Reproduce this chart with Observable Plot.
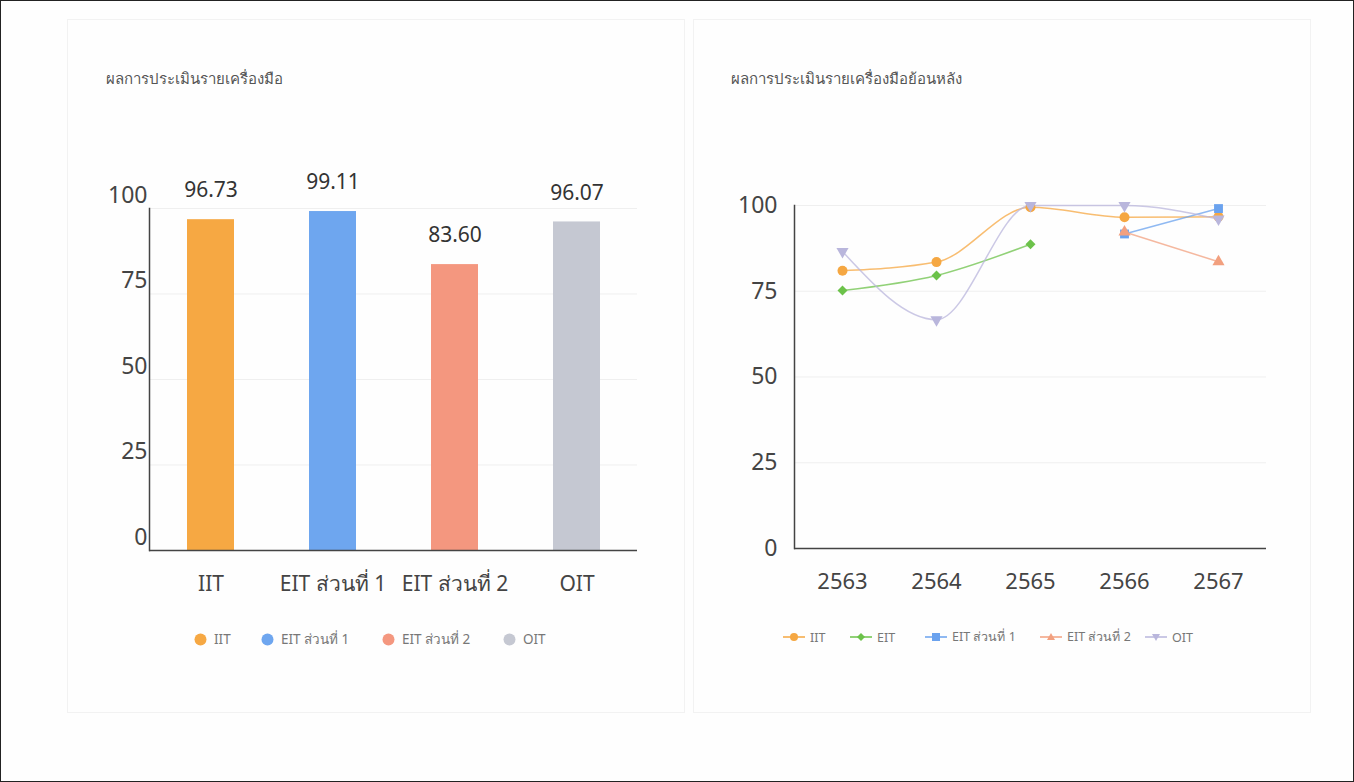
<!DOCTYPE html>
<html><head><meta charset="utf-8">
<script src="https://cdn.jsdelivr.net/npm/d3@7"></script>
<script src="https://cdn.jsdelivr.net/npm/@observablehq/plot@0.6"></script>
<style>
body{margin:0;background:#fff;font-family:"Noto Sans","Open Sans",sans-serif;}
#page{position:relative;width:1354px;height:782px;box-sizing:border-box;border:1px solid #222;overflow:hidden;background:#fefefe}
.panel{position:absolute;border:1px solid #f2f2f2;}
.title{position:absolute;font-size:15px;color:#555;line-height:16px;}
.chart{position:absolute;}
.leg{position:absolute;color:#777;display:flex;align-items:center;white-space:nowrap;height:16px;}
.leg svg{margin-right:5px;}
</style></head>
<body>
<div id="page">
  <div class="panel" style="left:66px;top:18px;width:616px;height:692px"></div>
  <div class="panel" style="left:692px;top:18px;width:616px;height:692px"></div>
  <div class="title" style="left:105px;top:69px">ผลการประเมินรายเครื่องมือ</div>
  <div class="title" style="left:730px;top:69px">ผลการประเมินรายเครื่องมือย้อนหลัง</div>
  <div id="left" class="chart" style="left:60px;top:150px"></div>
  <div id="right" class="chart" style="left:720px;top:150px"></div>
</div>
<script>
// ---- data ----
const barCategories = ["IIT", "EIT ส่วนที่ 1", "EIT ส่วนที่ 2", "OIT"];
const barValues = [96.73, 99.11, 83.60, 96.07];
const barColors = ["#f6a843", "#6ea6ef", "#f4977f", "#c5c8d2"];
const yTicks = [0, 25, 50, 75, 100];

const years = ["2563", "2564", "2565", "2566", "2567"];
const seriesNames = ["IIT", "EIT", "EIT ส่วนที่ 1", "EIT ส่วนที่ 2", "OIT"];
const iitValues = [81.0, 83.5, 99.5, 96.6, 96.73];
const eitValues = [75.2, 79.6, 88.7, null, null];
const eit1Values = [null, null, null, 91.7, 99.11];
const eit2Values = [null, null, null, 92.3, 83.60];
const oitValues = [86.6, 66.7, 100, 100, 96.07];
const lineColors = ["#f5a742", "#6cc24a", "#6aa2ee", "#f2a07f", "#b9b6dc"];

const font = '"Noto Sans","Open Sans",sans-serif';

// ---- left bar chart ----
const bars = barCategories.map((c, i) => ({cat: c, value: barValues[i]}));
const left = Plot.plot({
  width: 620, height: 470,
  marginLeft: 88, marginRight: 44, marginTop: 57, marginBottom: 71,
  style: {fontFamily: font, background: "transparent", overflow: "visible", color: "#444"},
  x: {domain: barCategories, paddingInner: 0.615, paddingOuter: 0.307, label: null},
  y: {domain: [0, 100], label: null},
  color: {domain: barCategories, range: barColors},
  marks: [
    Plot.ruleY(yTicks.filter(t => t > 0), {stroke: "#efefef"}),
    Plot.barY(bars, {x: "cat", y: "value", fill: "cat"}),
    Plot.text(bars, {x: "cat", y: "value", text: d => d.value.toFixed(2), dy: -29, fontSize: 21, fill: "#333"}),
    Plot.axisY(yTicks, {tickSize: 0, tickPadding: 2, dy: -13, fontSize: 23, fill: "#444", label: null}),
    Plot.axisX({tickSize: 0, tickPadding: 26, fontSize: 21, fill: "#444", label: null}),
    Plot.frame({anchor: "left", stroke: "#444", strokeWidth: 1.5}),
    Plot.ruleY([0], {stroke: "#444", strokeWidth: 1.5})
  ]
});
document.getElementById("left").appendChild(left);

// ---- right line chart ----
const seriesValues = [iitValues, eitValues, eit1Values, eit2Values, oitValues];
const rows = [];
seriesNames.forEach((s, si) => years.forEach((y, yi) => rows.push({series: s, year: y, value: seriesValues[si][yi]})));
const triangleDown = {
  draw(ctx, size) {
    const h = Math.sqrt(size / (Math.sqrt(3) / 4));
    const r = h / Math.sqrt(3);
    ctx.moveTo(0, r);
    ctx.lineTo(h / 2, -r / 2);
    ctx.lineTo(-h / 2, -r / 2);
    ctx.closePath();
  }
};
const symbols = ["circle", "diamond2", "square", "triangle", triangleDown];
const radii = [5, 4.5, 5, 4.5, 4.5];
const dotMarks = seriesNames.map((s, i) =>
  Plot.dot(rows.filter(d => d.series === s && d.value != null),
    {x: "year", y: "value", fill: "series", symbol: () => symbols[i], r: radii[i]}));

const right = Plot.plot({
  width: 600, height: 470,
  marginLeft: 73, marginRight: 55, marginTop: 54, marginBottom: 73,
  style: {fontFamily: font, background: "transparent", overflow: "visible", color: "#444"},
  x: {type: "point", domain: years, padding: 0.5, label: null},
  y: {domain: [0, 100], label: null},
  color: {domain: seriesNames, range: lineColors},
  symbol: {type: "identity"},
  marks: [
    Plot.ruleY(yTicks.filter(t => t > 0), {stroke: "#efefef"}),
    Plot.axisY(yTicks, {tickSize: 0, tickPadding: 17, fontSize: 23, fill: "#444", label: null}),
    Plot.axisX({tickSize: 0, tickPadding: 25, fontSize: 22, fill: "#444", label: null}),
    Plot.frame({anchor: "left", stroke: "#444", strokeWidth: 1.5}),
    Plot.ruleY([0], {stroke: "#444", strokeWidth: 1.5}),
    Plot.line(rows, {x: "year", y: "value", z: "series", stroke: "series", strokeWidth: 1.5, strokeOpacity: 0.75, curve: "monotone-x"}),
    ...dotMarks
  ]
});
document.getElementById("right").appendChild(right);

// ---- legends ----
const page = document.getElementById("page");
const leftLegendX = [193, 260, 381, 502];
barCategories.forEach((c, i) => {
  const d = document.createElement("div");
  d.className = "leg";
  d.style.fontSize = "13.5px";
  d.style.left = leftLegendX[i] + "px";
  d.style.top = "630px";
  d.innerHTML = `<svg width="13" height="13"><circle cx="6.5" cy="6.5" r="6" fill="${barColors[i]}"/></svg><span style="margin-left:2px">${c}</span>`;
  page.appendChild(d);
});
const rightLegendX = [782, 849, 924, 1039, 1144];
const legSym = [
  c => `<circle cx="11" cy="7" r="4" fill="${c}"/>`,
  c => `<path d="M11 3 L15 7 L11 11 L7 7Z" fill="${c}"/>`,
  c => `<rect x="7" y="3" width="8" height="8" fill="${c}"/>`,
  c => `<path d="M11 3 L15 10 L7 10Z" fill="${c}"/>`,
  c => `<path d="M11 11 L15 4 L7 4Z" fill="${c}"/>`
];
seriesNames.forEach((s, i) => {
  const d = document.createElement("div");
  d.className = "leg";
  d.style.fontSize = "12.5px";
  d.style.left = rightLegendX[i] + "px";
  d.style.top = "628px";
  d.innerHTML = `<svg width="22" height="14"><line x1="0" x2="22" y1="7" y2="7" stroke="${lineColors[i]}" stroke-width="1.5"/>${legSym[i](lineColors[i])}</svg><span>${s}</span>`;
  page.appendChild(d);
});
</script>
</body></html>
